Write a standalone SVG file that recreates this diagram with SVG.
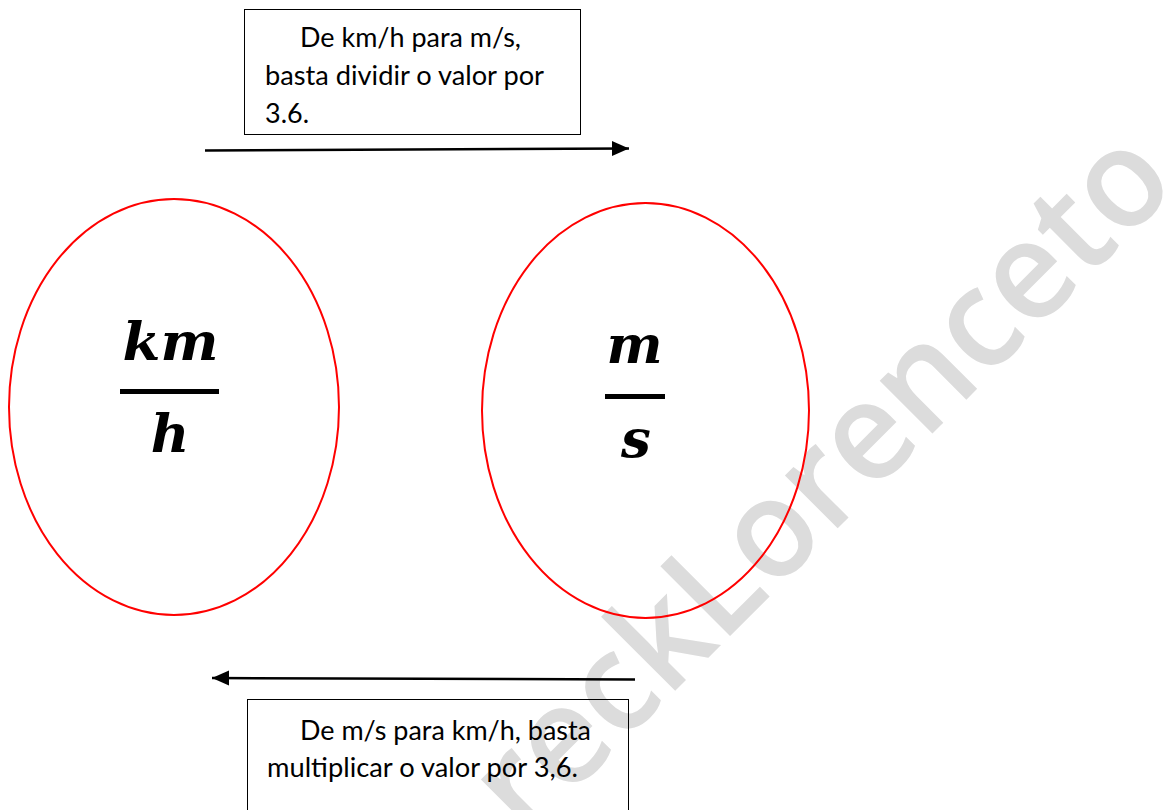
<svg xmlns="http://www.w3.org/2000/svg" width="1168" height="810" viewBox="0 0 1168 810">
<style>
.wm{font-family:"Open Sans","DejaVu Sans",sans-serif;font-weight:600;font-size:138px;fill:#dcdcdc}
.ell{fill:none;stroke:#ff0000;stroke-width:2}
.box{fill:none;stroke:#000;stroke-width:1}
.lbl{font-family:Lato,"Liberation Sans",sans-serif;font-size:27px;fill:#000}
.math{font-family:"DejaVu Serif","Liberation Serif",serif;font-weight:bold;font-style:italic;font-size:53px;fill:#000;text-anchor:middle}
.arr{stroke:#000;stroke-width:2.5;fill:none;marker-end:url(#ah)}
</style>
<defs>
<marker id="ah" markerUnits="userSpaceOnUse" markerWidth="18" markerHeight="16" refX="17" refY="7.5" orient="auto" viewBox="0 0 18 16">
<path d="M0,0 L17,7.5 L0,15 z" fill="#000"/>
</marker>
</defs>
<rect width="1168" height="810" fill="#fff"/>
<text class="wm" x="0" y="0" text-anchor="end" textLength="925" lengthAdjust="spacingAndGlyphs" transform="translate(1180,186) rotate(-45)">reckLorenceto</text>
<g id="node-kmh">
<ellipse class="ell" cx="174" cy="407" rx="165" ry="208"/>
<text class="math" x="170.5" y="360" textLength="96" lengthAdjust="spacingAndGlyphs">km</text>
<rect x="120" y="389" width="99" height="5" fill="#000"/>
<text class="math" x="170" y="452">h</text>
</g>
<g id="node-ms">
<ellipse class="ell" cx="645.5" cy="410.5" rx="163.5" ry="207.5"/>
<text class="math" x="634.5" y="363">m</text>
<rect x="605" y="394" width="60" height="5" fill="#000"/>
<text class="math" x="636" y="457">s</text>
</g>
<g id="note-top">
<rect class="box" x="244.5" y="9.5" width="336" height="125"/>
<text class="lbl" x="300" y="47" textLength="221" lengthAdjust="spacingAndGlyphs">De km/h para m/s,</text>
<text class="lbl" x="265" y="85" textLength="279" lengthAdjust="spacingAndGlyphs">basta dividir o valor por</text>
<text class="lbl" x="265" y="123" textLength="44" lengthAdjust="spacingAndGlyphs">3.6.</text>
</g>
<g id="note-bottom">
<rect class="box" x="247.5" y="699.5" width="381" height="130"/>
<text class="lbl" x="300" y="740" textLength="291" lengthAdjust="spacingAndGlyphs">De m/s para km/h, basta</text>
<text class="lbl" x="267" y="777" textLength="311" lengthAdjust="spacingAndGlyphs">multiplicar o valor por 3,6.</text>
</g>
<g id="connectors">
<line class="arr" x1="205" y1="150.5" x2="629" y2="148.5"/>
<line class="arr" x1="635" y1="679.5" x2="212" y2="678"/>
</g>
</svg>
